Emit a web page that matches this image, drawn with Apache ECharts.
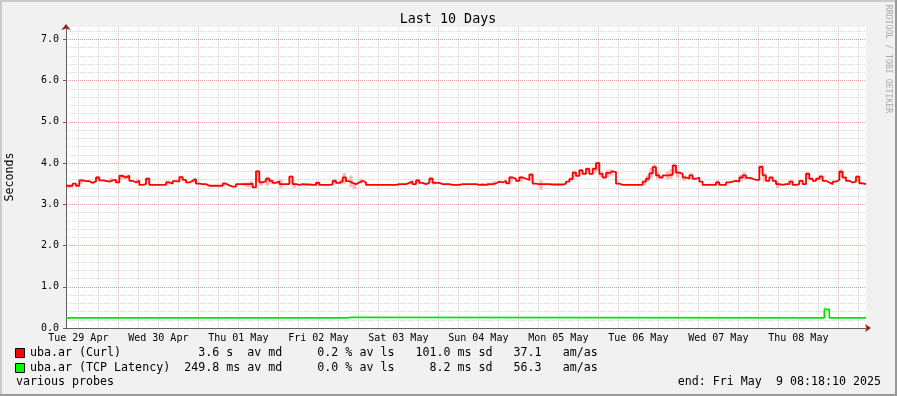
<!DOCTYPE html>
<html><head><meta charset="utf-8">
<script src="https://cdn.jsdelivr.net/npm/echarts@6/dist/echarts.min.js"></script>
<style>html,body{margin:0;padding:0;background:#f1f1f1}#c{width:897px;height:396px}</style>
</head><body><div id="c"></div>
<script>
// ---- data ----
const START_HOUR = 8.3;          // 29 Apr 08:18 (hours after 29 Apr 00:00)
const SPAN_HOURS = 240;          // 10 days
const dayLabels = ['Tue 29 Apr','Wed 30 Apr','Thu 01 May','Fri 02 May','Sat 03 May','Sun 04 May','Mon 05 May','Tue 06 May','Wed 07 May','Thu 08 May'];
const dayLabelHours = [12,36,60,84,108,132,156,180,204,228];
const midnightHours = [24,48,72,96,120,144,168,192,216,240];
const sixHourHours = [12,18,30,36,42,54,60,66,78,84,90,102,108,114,126,132,138,150,156,162,174,180,186,198,204,210,222,228,234,246];

// hourly median of uba.ar (Curl), seconds, hour 0 = chart start
const curlMedian = [
 3.45,3.45,3.50,3.45,3.58,3.56,3.56,3.52,3.56,3.65,
 3.58,3.57,3.55,3.58,3.59,3.53,3.69,3.65,3.69,3.57,
 3.53,3.57,3.47,3.49,3.62,3.47,3.47,3.47,3.47,3.47,
 3.53,3.50,3.56,3.55,3.66,3.59,3.53,3.57,3.61,3.50,
 3.49,3.49,3.45,3.45,3.45,3.45,3.45,3.50,3.46,3.43,
 3.43,3.49,3.49,3.49,3.49,3.50,3.41,3.80,3.53,3.56,
 3.62,3.57,3.52,3.56,3.49,3.49,3.49,3.67,3.49,3.47,
 3.49,3.48,3.48,3.47,3.47,3.52,3.47,3.47,3.47,3.48,
 3.57,3.52,3.56,3.65,3.56,3.52,3.49,3.53,3.57,3.53,
 3.47,3.47,3.47,3.47,3.47,3.47,3.47,3.47,3.47,3.49,
 3.49,3.49,3.52,3.55,3.49,3.58,3.52,3.49,3.52,3.62,
 3.52,3.52,3.49,3.49,3.49,3.47,3.47,3.47,3.49,3.49,
 3.49,3.49,3.49,3.47,3.48,3.47,3.49,3.49,3.51,3.55,
 3.53,3.57,3.51,3.65,3.62,3.57,3.65,3.62,3.59,3.72,
 3.50,3.49,3.49,3.49,3.49,3.48,3.48,3.48,3.48,3.50,
 3.55,3.61,3.77,3.69,3.82,3.74,3.86,3.74,3.86,4.00,
 3.74,3.65,3.76,3.80,3.78,3.50,3.47,3.47,3.47,3.47,
 3.47,3.47,3.47,3.55,3.62,3.75,3.90,3.70,3.65,3.70,
 3.70,3.72,3.94,3.77,3.74,3.65,3.62,3.70,3.62,3.65,
 3.55,3.47,3.47,3.47,3.47,3.53,3.47,3.47,3.53,3.55,
 3.57,3.55,3.65,3.70,3.64,3.62,3.59,3.59,3.91,3.70,
 3.57,3.65,3.57,3.49,3.47,3.49,3.49,3.55,3.47,3.49,
 3.57,3.49,3.74,3.62,3.57,3.62,3.67,3.57,3.53,3.49,
 3.55,3.59,3.79,3.65,3.57,3.53,3.55,3.67,3.51,3.49
];
// visible smoke spread of Curl: [hour, low, high]
const curlSmoke = [
 [0,3.40,3.47],[1,3.40,3.46],[4,3.50,3.62],[9,3.58,3.68],[13,3.56,3.64],[16,3.60,3.73],[17,3.60,3.70],[18,3.60,3.72],
 [21,3.52,3.62],[24,3.50,3.65],[30,3.48,3.58],[34,3.58,3.69],[38,3.52,3.64],[47,3.45,3.55],[53,3.45,3.53],[54,3.42,3.53],
 [55,3.43,3.56],[57,3.55,3.82],[58,3.45,3.58],[60,3.45,3.67],[61,3.50,3.62],[64,3.40,3.60],[67,3.50,3.70],[68,3.40,3.52],
 [75,3.45,3.57],[80,3.50,3.62],[82,3.48,3.60],[83,3.50,3.76],[85,3.42,3.70],[86,3.37,3.52],[88,3.50,3.62],[103,3.48,3.58],
 [105,3.50,3.62],[109,3.52,3.67],[110,3.48,3.56],[126,3.45,3.53],[128,3.48,3.56],[133,3.55,3.68],[136,3.55,3.68],[139,3.55,3.76],
 [142,3.35,3.58],[151,3.55,3.66],[152,3.65,3.82],[154,3.72,3.86],[156,3.75,3.90],[158,3.75,3.90],[159,3.80,4.02],[160,3.66,3.80],
 [162,3.65,3.82],[163,3.70,3.85],[173,3.47,3.58],[174,3.55,3.70],[175,3.65,3.88],[176,3.75,3.97],[177,3.62,3.78],[180,3.60,3.80],
 [181,3.62,3.85],[182,3.75,3.98],[183,3.65,3.82],[185,3.57,3.70],[187,3.60,3.76],[195,3.47,3.58],[202,3.55,3.72],[203,3.60,3.78],
 [208,3.75,3.95],[209,3.55,3.76],[213,3.40,3.55],[217,3.48,3.60],[222,3.60,3.80],[226,3.58,3.72],[232,3.65,3.85],[237,3.55,3.70]
];
// uba.ar (TCP Latency) median, seconds: [hour, value] change points
const tcpSteps = [[0,0.245],[84.5,0.26],[85.5,0.245],[227.5,0.45],[229,0.245],[240,0.245]];
const tcpSmoke = [[227.5,0.25,0.52]];

const legendLine1 = 'uba.ar (Curl)           3.6 s  av md     0.2 % av ls   101.0 ms sd   37.1   am/as';
const legendLine2 = 'uba.ar (TCP Latency)  249.8 ms av md     0.0 % av ls     8.2 ms sd   56.3   am/as';
const footLeft = 'various probes';
const footRight = 'end: Fri May  9 08:18:10 2025';
const titleText = 'Last 10 Days';
const yTitle = 'Seconds';
const watermark = 'RRDTOOL / TOBI OETIKER';

// ---- chart ----
const MONO = '"DejaVu Sans Mono", monospace';
const chart = echarts.init(document.getElementById('c'), null, {renderer:'canvas'});
const X_MIN = START_HOUR, X_MAX = START_HOUR + SPAN_HOURS;
const GRID_GRAY = 'rgba(150,150,150,0.38)';
const GRID_RED = 'rgba(240,80,80,0.42)';

const redData = curlMedian.map((v,i)=>[START_HOUR+i, v]);
redData.push([START_HOUR+SPAN_HOURS, curlMedian[curlMedian.length-1]]);
const greenData = tcpSteps.map(p=>[START_HOUR+p[0], p[1]]);

function smokeAreas(list, width){
  return list.map(s=>[{xAxis:START_HOUR+s[0], yAxis:s[1]},{xAxis:START_HOUR+s[0]+width, yAxis:s[2]}]);
}

const gridMarks = sixHourHours.map(h=>({xAxis:h, lineStyle:{color:GRID_GRAY, type:[1,1], width:1}}))
  .concat(midnightHours.map(h=>({xAxis:h, lineStyle:{color:GRID_RED, type:[1,1], width:1}})));

chart.setOption({
  animation:false,
  backgroundColor:'#f1f1f1',
  grid:{left:66, top:27, width:800, height:301, show:true, backgroundColor:'#ffffff', borderWidth:0},
  xAxis:[
    {type:'value', min:X_MIN, max:X_MAX, position:'bottom', z:3,
     axisLine:{show:true, lineStyle:{color:'#606060', width:1}},
     axisTick:{show:false},
     axisLabel:{show:true, customValues:dayLabelHours, margin:5, fontFamily:MONO, fontSize:10, color:'#000',
       formatter:v=>{const i=dayLabelHours.indexOf(Math.round(v)); return i>=0?dayLabels[i]:'';}},
     splitLine:{show:false}},
    {type:'value', min:X_MIN, max:X_MAX, position:'bottom', z:1,
     axisLine:{show:true, symbol:['none','arrow'], symbolSize:[6,6], symbolOffset:[0,5], lineStyle:{color:'#a01818', width:1}},
     axisTick:{show:false}, axisLabel:{show:false}, splitLine:{show:false}}
  ],
  yAxis:[
    {type:'value', min:0, max:7.3, interval:1, position:'left', z:3,
     axisLine:{show:true, lineStyle:{color:'#606060', width:1}},
     axisTick:{show:true, length:3, lineStyle:{color:'#606060'}},
     axisLabel:{formatter:v=>v.toFixed(1), showMaxLabel:false, margin:7, fontFamily:MONO, fontSize:10, color:'#000'},
     splitLine:{show:true, showMinLine:false, showMaxLine:false, lineStyle:{color:GRID_RED, type:[1,1], width:1}}},
    {type:'value', min:0, max:7.3, interval:0.2, position:'left', z:1,
     axisLine:{show:true, symbol:['none','arrow'], symbolSize:[7,6], symbolOffset:[0,3], lineStyle:{color:'#a01818', width:1}},
     axisTick:{show:false}, axisLabel:{show:false},
     splitLine:{show:true, showMinLine:false, showMaxLine:false, lineStyle:{color:GRID_GRAY, type:[1,1], width:1}}}
  ],
  series:[
    {type:'line', name:'grid', xAxisIndex:0, yAxisIndex:0, data:[[X_MIN,0]], symbol:'none', lineStyle:{width:0}, z:1, silent:true,
     markLine:{silent:true, symbol:['none','none'], label:{show:false}, animation:false, data:gridMarks}},
    {type:'line', name:'curl smoke', xAxisIndex:0, yAxisIndex:0, data:[[X_MIN,0]], symbol:'none', lineStyle:{width:0}, z:3, silent:true,
     markArea:{silent:true, label:{show:false}, itemStyle:{color:'#ffb8b8', opacity:1, borderWidth:0}, data:smokeAreas(curlSmoke, 1)}},
    {type:'line', name:'tcp smoke', xAxisIndex:0, yAxisIndex:0, data:[[X_MIN,0]], symbol:'none', lineStyle:{width:0}, z:3, silent:true,
     markArea:{silent:true, label:{show:false}, itemStyle:{color:'#b8f5b8', opacity:1, borderWidth:0}, data:smokeAreas(tcpSmoke, 0.6)}},
    {type:'line', name:'uba.ar (Curl)', xAxisIndex:0, yAxisIndex:0, step:'end', data:redData, symbol:'none', z:5,
     lineStyle:{color:'#ff0000', width:1.8}},
    {type:'line', name:'uba.ar (TCP Latency)', xAxisIndex:0, yAxisIndex:0, step:'end', data:greenData, symbol:'none', z:5,
     lineStyle:{color:'#00e400', width:1.7}}
  ],
  graphic:[
    {type:'rect', shape:{x:0,y:0,width:897,height:2}, style:{fill:'#cbcbcb'}, silent:true},
    {type:'rect', shape:{x:0,y:0,width:2,height:396}, style:{fill:'#cbcbcb'}, silent:true},
    {type:'rect', shape:{x:0,y:394,width:897,height:2}, style:{fill:'#999999'}, silent:true},
    {type:'rect', shape:{x:895,y:0,width:2,height:396}, style:{fill:'#999999'}, silent:true},
    {type:'text', x:448, y:19.5, style:{text:titleText, font:'13.4px '+MONO, fill:'#000', textAlign:'center', textVerticalAlign:'middle'}},
    {type:'text', x:10, y:177, rotation:Math.PI/2, style:{text:yTitle, font:'11.6px '+MONO, fill:'#000', textAlign:'center', textVerticalAlign:'middle'}},
    {type:'text', x:888.5, y:59, rotation:-Math.PI/2, style:{text:watermark, font:'8.2px '+MONO, fill:'#aaaaaa', textAlign:'center', textVerticalAlign:'middle'}},
    {type:'rect', shape:{x:15.5,y:348.5,width:9,height:9}, style:{fill:'#ff0000', stroke:'#000', lineWidth:1}},
    {type:'rect', shape:{x:15.5,y:363.5,width:9,height:9}, style:{fill:'#00ff00', stroke:'#000', lineWidth:1}},
    {type:'text', x:30, y:353.3, style:{text:legendLine1, font:'11.65px '+MONO, fill:'#000', textVerticalAlign:'middle'}},
    {type:'text', x:30, y:368.3, style:{text:legendLine2, font:'11.65px '+MONO, fill:'#000', textVerticalAlign:'middle'}},
    {type:'text', x:16, y:382, style:{text:footLeft, font:'11.65px '+MONO, fill:'#000', textVerticalAlign:'middle'}},
    {type:'text', x:881, y:382, style:{text:footRight, font:'11.65px '+MONO, fill:'#000', textAlign:'right', textVerticalAlign:'middle'}}
  ]
});
</script></body></html>
